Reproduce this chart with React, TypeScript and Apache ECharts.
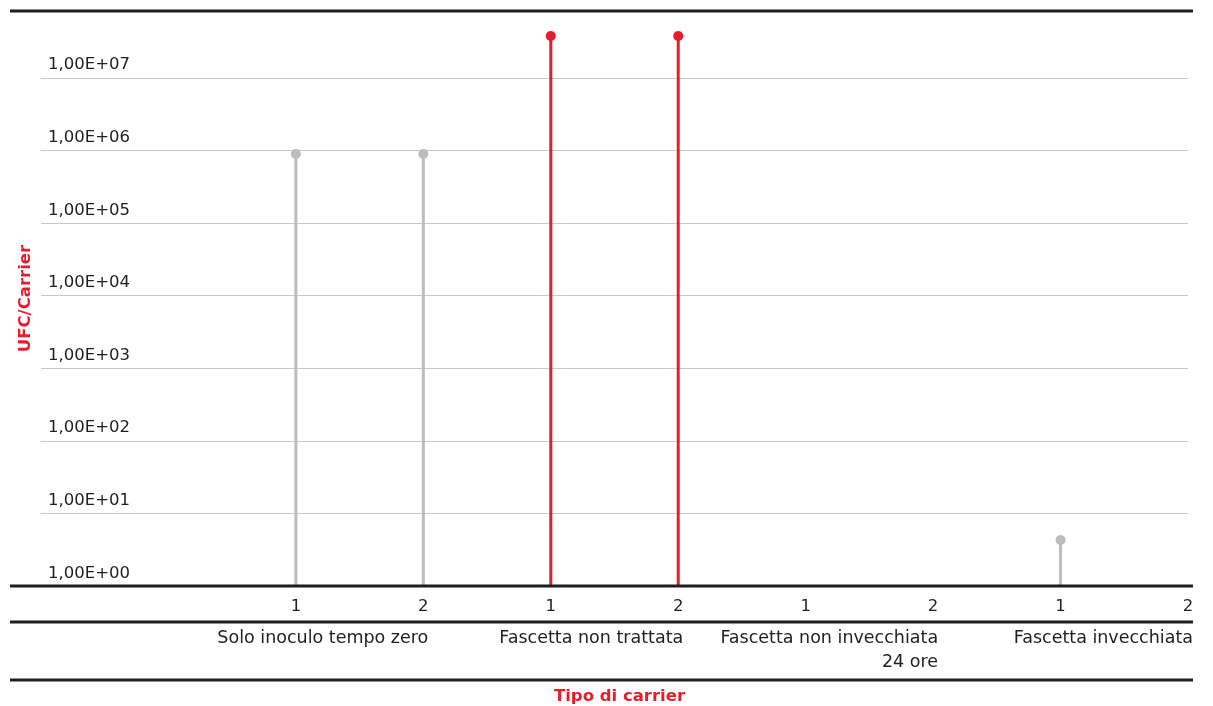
import React, { useEffect, useRef } from "react";
import * as echarts from "echarts";

const categories = ["", "", "1", "2", "1", "2", "1", "2", "1", "2"];
const groupLabels = ["", "", "", "Solo inoculo tempo zero", "", "Fascetta non trattata", "", "Fascetta non invecchiata\n24 ore", "", "Fascetta invecchiata"];
const grayValues: (number | null)[] = [null, null, 9.0e5, 9.0e5, null, null, null, null, 4.3, null];
const redValues: (number | null)[] = [null, null, null, null, 3.8e7, 3.8e7, null, null, null, null];
const yAxisTitle = "UFC/Carrier";
const xAxisTitle = "Tipo di carrier";

const GRAY = "#BBBCBE";
const RED = "#E81D2C";
const INK = "#1F1F1F";
const FONT = "'DejaVu Sans', sans-serif";
const FS = 16.5;

export default function App() {
  const ref = useRef<HTMLDivElement>(null);
  useEffect(() => {
    if (!ref.current) return;
    const chart = echarts.init(ref.current, null, { renderer: "svg" });
    const line = (y: number) => ({
      type: "line",
      shape: { x1: 10, y1: y, x2: 1193, y2: y },
      style: { stroke: INK, lineWidth: 3 },
      z: 10,
    });
    chart.setOption({
      animation: false,
      textStyle: { fontFamily: FONT },
      grid: [
        { left: 41, right: 25, top: 11, bottom: 120 },
        { left: 46, right: 20, top: 600, bottom: 84 },
      ],
      xAxis: [
        {
          type: "category",
          gridIndex: 0,
          data: categories,
          boundaryGap: false,
          axisLine: { show: false },
          axisTick: { show: false },
          axisLabel: { fontSize: FS, color: INK, margin: 11, fontFamily: FONT, interval: 0 },
          splitLine: { show: false },
        },
        {
          type: "category",
          gridIndex: 1,
          data: groupLabels,
          boundaryGap: false,
          axisLine: { show: false },
          axisTick: { show: false },
          axisLabel: { fontSize: 17.5, color: INK, margin: 3, lineHeight: 24, align: "right", fontFamily: FONT, interval: 0 },
          name: xAxisTitle,
          nameLocation: "middle",
          nameGap: 65,
          nameTextStyle: { color: RED, fontWeight: "bold", fontSize: FS, fontFamily: FONT },
        },
      ],
      yAxis: [
        {
          type: "log",
          gridIndex: 0,
          logBase: 10,
          min: 1,
          max: Math.pow(10, 7.923),
          axisLine: { show: false },
          axisTick: { show: false },
          splitLine: { show: true, lineStyle: { color: "#C8C8C8", width: 1 } },
          axisLabel: {
            inside: true,
            margin: 7,
            fontSize: FS,
            color: INK,
            fontFamily: FONT,
            verticalAlign: "bottom",
            lineHeight: 28,
            formatter: (v: number) => {
              const e = Math.log10(v);
              if (Math.abs(e - Math.round(e)) > 1e-6) return "";
              const n = Math.round(e);
              return "1,00E+" + (n < 10 ? "0" + n : String(n));
            },
          },
          name: yAxisTitle,
          nameLocation: "middle",
          nameGap: 4,
          nameTextStyle: { color: RED, fontWeight: "bold", fontSize: FS, fontFamily: FONT },
        },
        { type: "value", gridIndex: 1, show: false },
      ],
      graphic: [line(11), line(586), line(622), line(680)],
      series: [
        {
          type: "bar",
          data: grayValues,
          barWidth: 3,
          barGap: "-100%",
          itemStyle: { color: GRAY },
          xAxisIndex: 0,
          yAxisIndex: 0,
        },
        {
          type: "bar",
          data: redValues,
          barWidth: 3,
          itemStyle: { color: RED },
          xAxisIndex: 0,
          yAxisIndex: 0,
        },
        {
          type: "scatter",
          data: grayValues,
          symbolSize: 10,
          itemStyle: { color: GRAY, opacity: 1 },
          xAxisIndex: 0,
          yAxisIndex: 0,
        },
        {
          type: "scatter",
          data: redValues,
          symbolSize: 10,
          itemStyle: { color: RED, opacity: 1 },
          xAxisIndex: 0,
          yAxisIndex: 0,
        },
      ],
    });
    return () => chart.dispose();
  }, []);
  return <div ref={ref} style={{ position: "fixed", left: 0, top: 0, width: 1213, height: 706 }} />;
}
